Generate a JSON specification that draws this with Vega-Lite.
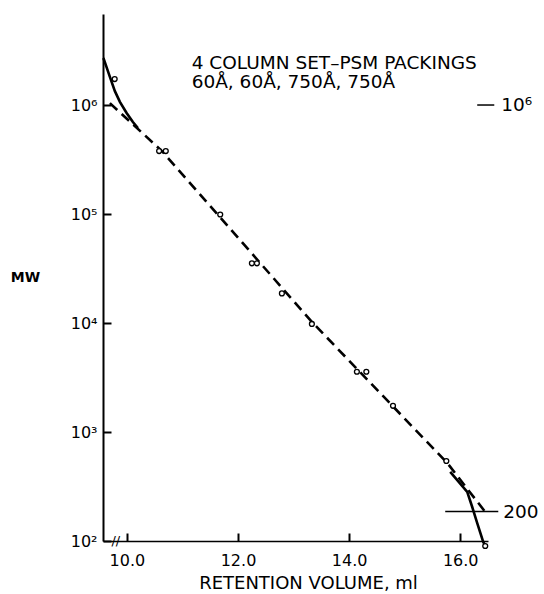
{
  "$schema": "https://vega.github.io/schema/vega-lite/v6.json",
  "width": 385,
  "height": 527,
  "autosize": {"type": "none"},
  "padding": {"left": 103, "top": 14, "right": 56, "bottom": 53},
  "background": "white",
  "config": {
    "view": {"stroke": null},
    "font": "DejaVu Sans",
    "axis": {
      "domainColor": "black",
      "tickColor": "black",
      "labelColor": "black",
      "titleColor": "black",
      "grid": false,
      "labelFont": "DejaVu Sans",
      "titleFont": "DejaVu Sans",
      "labelFontSize": 16,
      "tickWidth": 2,
      "tickSize": -8,
      "labelOverlap": false,
      "labelFlush": false
    }
  },
  "datasets": {
    "points": [
      {"v": 9.78, "mw": 1730000},
      {"v": 10.58, "mw": 378000},
      {"v": 10.70, "mw": 378000},
      {"v": 11.68, "mw": 99000},
      {"v": 12.25, "mw": 35300},
      {"v": 12.34, "mw": 35300},
      {"v": 12.79, "mw": 18700},
      {"v": 13.33, "mw": 9800},
      {"v": 14.14, "mw": 3570},
      {"v": 14.31, "mw": 3570},
      {"v": 14.79, "mw": 1740},
      {"v": 15.75, "mw": 542},
      {"v": 16.45, "mw": 90}
    ],
    "dashed": [
      {"v": 9.694, "mw": 1040000},
      {"v": 10.631, "mw": 378000},
      {"v": 13.333, "mw": 10200},
      {"v": 15.766, "mw": 520},
      {"v": 16.45, "mw": 185}
    ],
    "solid": [
      {"seg": "high", "v": 9.577, "mw": 2700000},
      {"seg": "high", "v": 9.640, "mw": 2180000},
      {"seg": "high", "v": 9.694, "mw": 1810000},
      {"seg": "high", "v": 9.784, "mw": 1340000},
      {"seg": "high", "v": 9.874, "mw": 1070000},
      {"seg": "high", "v": 9.995, "mw": 845000},
      {"seg": "high", "v": 10.108, "mw": 698000},
      {"seg": "high", "v": 10.198, "mw": 615000},
      {"seg": "low", "v": 15.82, "mw": 430},
      {"seg": "low", "v": 16.126, "mw": 282},
      {"seg": "low", "v": 16.216, "mw": 205},
      {"seg": "low", "v": 16.306, "mw": 146},
      {"seg": "low", "v": 16.414, "mw": 98},
      {"seg": "low", "v": 16.468, "mw": 88}
    ],
    "marks": [
      {"v": 16.306, "v2": 16.613, "mw": 1000000},
      {"v": 15.73, "v2": 16.685, "mw": 186}
    ],
    "notes": [
      {"v": 11.166, "mw": 2430000, "label": "4 COLUMN SET–PSM PACKINGS"},
      {"v": 11.166, "mw": 1630000, "label": "60Å, 60Å, 750Å, 750Å"},
      {"v": 16.739, "mw": 1000000, "label": "10⁶"},
      {"v": 16.775, "mw": 186, "label": "200"}
    ],
    "brk": [
      {"v": 9.8, "mw": 100, "label": "//"}
    ]
  },
  "encoding": {
    "x": {
      "field": "v",
      "type": "quantitative",
      "scale": {"domain": [9.57, 16.5], "nice": false, "zero": false},
      "axis": {
        "values": [10, 12, 14, 16],
        "format": ".1f",
        "domainWidth": 1.5,
        "labelPadding": 19,
        "title": "RETENTION VOLUME, ml",
        "titleFontSize": 18,
        "titleFontWeight": "normal",
        "titleAlign": "center",
        "titleBaseline": "middle",
        "titleX": 205,
        "titleY": 42
      }
    },
    "y": {
      "field": "mw",
      "type": "quantitative",
      "scale": {"type": "log", "domain": [100, 6840000], "nice": false},
      "axis": {
        "values": [100, 1000, 10000, 100000, 1000000],
        "labelExpr": "datum.value == 100 ? '10²' : datum.value == 1000 ? '10³' : datum.value == 10000 ? '10⁴' : datum.value == 100000 ? '10⁵' : '10⁶'",
        "domainWidth": 2,
        "labelPadding": 14,
        "title": "MW",
        "titleAngle": 0,
        "titleFontSize": 14,
        "titleFontWeight": "bold",
        "titleAlign": "center",
        "titleBaseline": "middle",
        "titleX": -78,
        "titleY": 263
      }
    }
  },
  "layer": [
    {
      "data": {"name": "dashed"},
      "mark": {"type": "line", "color": "black", "strokeWidth": 2.6, "strokeDash": [10, 6]},
      "encoding": {}
    },
    {
      "data": {"name": "solid"},
      "mark": {"type": "line", "color": "black", "strokeWidth": 2.6},
      "encoding": {"detail": {"field": "seg", "type": "nominal"}}
    },
    {
      "data": {"name": "marks"},
      "mark": {"type": "rule", "color": "black", "strokeWidth": 1.5},
      "encoding": {"x2": {"field": "v2"}}
    },
    {
      "data": {"name": "points"},
      "mark": {"type": "point", "shape": "circle", "size": 24, "filled": false, "fill": "white", "fillOpacity": 1, "stroke": "black", "strokeWidth": 1.3, "opacity": 1},
      "encoding": {}
    },
    {
      "data": {"name": "notes"},
      "mark": {"type": "text", "align": "left", "baseline": "middle", "fontSize": 18.5, "color": "black", "font": "DejaVu Sans"},
      "encoding": {"text": {"field": "label"}}
    },
    {
      "data": {"name": "brk"},
      "mark": {"type": "text", "align": "center", "baseline": "middle", "fontSize": 13, "color": "black", "font": "DejaVu Sans"},
      "encoding": {"text": {"field": "label"}}
    }
  ]
}
